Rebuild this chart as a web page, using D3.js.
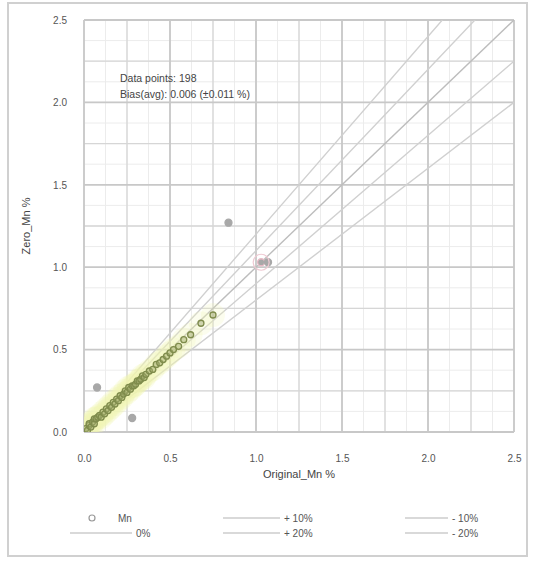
<!DOCTYPE html>
<html><head><meta charset="utf-8">
<script src="https://cdn.jsdelivr.net/npm/d3@7"></script>
<style>
html,body{margin:0;padding:0;background:#fff;}
svg{display:block;font-family:"Liberation Sans",Arial,sans-serif;}
</style></head>
<body><svg id="c" width="533" height="561"></svg>
<script>
// ---- data ----
const xTicks = [0, 0.5, 1.0, 1.5, 2.0, 2.5];
const yTicks = [0, 0.5, 1.0, 1.5, 2.0, 2.5];
const mnX = [0.01,0.02,0.03,0.03,0.04,0.05,0.06,0.06,0.07,0.08,0.09,0.10,0.11,0.12,0.13,0.14,0.15,0.16,0.17,0.18,0.19,0.20,0.21,0.22,0.23,0.24,0.25,0.26,0.27,0.28,0.29,0.30,0.31,0.32,0.33,0.34,0.35,0.36,0.38,0.40,0.42,0.44,0.46,0.48,0.50,0.52,0.55,0.58,0.62,0.68,0.75,0.076,0.28,0.84,1.03,1.07];
const mnY = [0.02,0.01,0.04,0.05,0.03,0.06,0.05,0.08,0.08,0.09,0.10,0.09,0.12,0.11,0.14,0.13,0.16,0.15,0.18,0.17,0.20,0.19,0.22,0.21,0.23,0.25,0.24,0.27,0.26,0.28,0.28,0.29,0.31,0.31,0.32,0.34,0.33,0.35,0.37,0.38,0.41,0.42,0.44,0.46,0.48,0.50,0.52,0.56,0.59,0.66,0.71,0.27,0.085,1.27,1.03,1.03];
const refSlopes = [1.0, 1.1, 1.2, 0.9, 0.8];
const legendLabels = ["Mn", "0%", "+ 10%", "+ 20%", "- 10%", "- 20%"];
const annot = ["Data points: 198", "Bias(avg): 0.006 (\u00b10.011 %)"];

const svg = d3.select("#c");
const L = 84, R = 514, T = 20, B = 432;
const x = d3.scaleLinear().domain([0, 2.5]).range([L, R]);
const y = d3.scaleLinear().domain([0, 2.5]).range([B, T]);

// outer frame
svg.append("rect").attr("x",8).attr("y",3).attr("width",519).attr("height",553)
  .attr("fill","#fff").attr("stroke","#d0d0d0").attr("stroke-width",2);

// grid
const g = svg.append("g");
const faint = d3.range(0, 2.5001, 0.125);
faint.forEach(v => {
  g.append("line").attr("x1",x(v)).attr("x2",x(v)).attr("y1",T).attr("y2",B).attr("stroke","#ececec");
  g.append("line").attr("y1",y(v)).attr("y2",y(v)).attr("x1",L).attr("x2",R).attr("stroke","#ececec");
});
const half = d3.range(0.25, 2.5, 0.5);
half.forEach(v => {
  g.append("line").attr("x1",x(v)).attr("x2",x(v)).attr("y1",T).attr("y2",B).attr("stroke","#d6d6d6").attr("stroke-width",1.3);
  g.append("line").attr("y1",y(v)).attr("y2",y(v)).attr("x1",L).attr("x2",R).attr("stroke","#d6d6d6").attr("stroke-width",1.3);
});
xTicks.forEach(v => g.append("line").attr("x1",x(v)).attr("x2",x(v)).attr("y1",T).attr("y2",B).attr("stroke","#c8c8c8").attr("stroke-width",1.8));
yTicks.forEach(v => g.append("line").attr("y1",y(v)).attr("y2",y(v)).attr("x1",L).attr("x2",R).attr("stroke","#c8c8c8").attr("stroke-width",1.8));

// axes (labels only)
const xa = svg.append("g").attr("transform",`translate(0,${B+20})`)
  .call(d3.axisBottom(x).tickValues(xTicks).tickFormat(d3.format(".1f")).tickSize(0));
const ya = svg.append("g").attr("transform",`translate(${L-14},0)`)
  .call(d3.axisLeft(y).tickValues(yTicks).tickFormat(d3.format(".1f")).tickSize(0));
[xa,ya].forEach(a => { a.select(".domain").remove(); a.selectAll("text").attr("fill","#555").attr("font-size",10); });

svg.append("text").attr("x",(L+R)/2).attr("y",478).attr("text-anchor","middle")
  .attr("font-size",11).attr("fill","#444").text("Original_Mn %");
svg.append("text").attr("transform",`translate(30,${(T+B)/2}) rotate(-90)`).attr("text-anchor","middle")
  .attr("font-size",11).attr("fill","#444").text("Zero_Mn %");

// reference lines
svg.append("clipPath").attr("id","pc").append("rect").attr("x",L).attr("y",T).attr("width",R-L).attr("height",B-T);
const lines = svg.append("g").attr("clip-path","url(#pc)");
refSlopes.forEach((s,i) => {
  lines.append("line").attr("x1",x(0)).attr("y1",y(0)).attr("x2",x(2.5)).attr("y2",y(2.5*s))
    .attr("stroke", i===0 ? "#bdbdbd" : "#d0d0d0").attr("stroke-width",1.4);
});

// points
const pts = mnX.map((v,i)=>({x:v,y:mnY[i]}));
const pg = svg.append("g").attr("clip-path","url(#pc)");
pg.selectAll(".glow").data(pts.slice(0,51)).join("circle")
  .attr("cx",d=>x(d.x)).attr("cy",d=>y(d.y)).attr("r",12)
  .attr("fill","#f1f4b0").attr("opacity",0.22);
pg.selectAll(".pt").data(pts).join("circle")
  .attr("cx",d=>x(d.x)).attr("cy",d=>y(d.y)).attr("r",(d,i)=> i<51 ? 3 : 3.5)
  .attr("fill",(d,i)=> i<51 ? "#a3ad70" : "#a8a8a8")
  .attr("fill-opacity",(d,i)=> i<51 ? 0.5 : 1)
  .attr("stroke",(d,i)=> i<51 ? "#7f8c4c" : (i===54 ? "#e8b8c4" : "#a8a8a8"))
  .attr("stroke-width",1.3);
svg.append("circle").attr("cx",x(1.03)).attr("cy",y(1.03)).attr("r",8).attr("fill","none").attr("stroke","#efc9d2").attr("stroke-width",1.2);

// annotation
annot.forEach((t,i)=> svg.append("text").attr("x",120).attr("y",82+i*16)
  .attr("font-size",10.5).attr("fill","#444").text(t));

// legend
const leg = svg.append("g").attr("font-size",10).attr("fill","#555");
function legLine(x1,x2,yy,label){
  leg.append("line").attr("x1",x1).attr("x2",x2).attr("y1",yy).attr("y2",yy).attr("stroke","#cccccc").attr("stroke-width",1.6);
  leg.append("text").attr("x",x2+4).attr("y",yy+3.5).text(label);
}
leg.append("circle").attr("cx",92).attr("cy",518).attr("r",3).attr("fill","none").attr("stroke","#999").attr("stroke-width",1.2);
leg.append("text").attr("x",118).attr("y",521.5).text(legendLabels[0]);
legLine(70,132,533,legendLabels[1]);
legLine(223,280,518,legendLabels[2]);
legLine(223,280,533,legendLabels[3]);
legLine(405,448,518,legendLabels[4]);
legLine(405,448,533,legendLabels[5]);
</script></body></html>
